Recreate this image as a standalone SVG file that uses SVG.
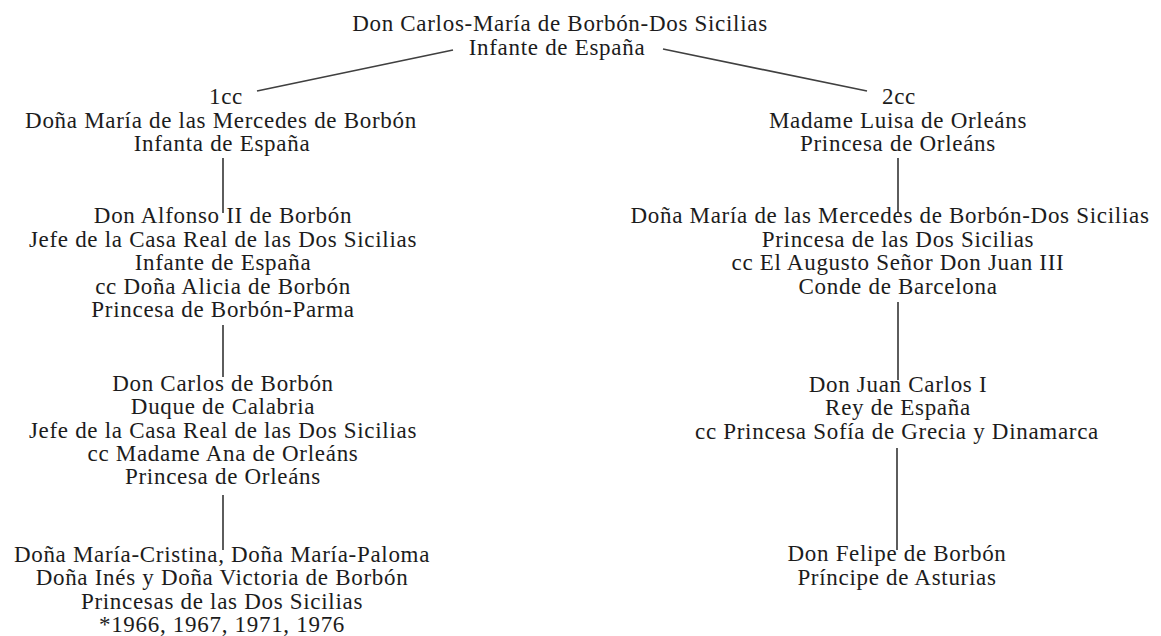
<svg xmlns="http://www.w3.org/2000/svg" width="1161" height="636" viewBox="0 0 1161 636">
<style>
text{font-family:"Liberation Serif","Times New Roman",serif;font-size:23px;letter-spacing:0.7px;fill:#1c1c1c;text-anchor:middle}
.c{stroke:#404040;stroke-width:1.7;fill:none}
</style>
<rect width="1161" height="636" fill="#ffffff"/>
<g id="connectors">
<line class="c" x1="453" y1="50" x2="257" y2="91"/>
<line class="c" x1="663" y1="49" x2="867" y2="91"/>
<line class="c" x1="223" y1="158" x2="223" y2="213"/>
<line class="c" x1="223" y1="325" x2="223" y2="377"/>
<line class="c" x1="223" y1="495" x2="223" y2="550"/>
<line class="c" x1="898" y1="158" x2="898" y2="213"/>
<line class="c" x1="898" y1="302" x2="898" y2="380"/>
<line class="c" x1="897" y1="448" x2="897" y2="550"/>
</g>
<g id="carlos-maria">
<text x="560" y="31">Don Carlos-María de Borbón-Dos Sicilias</text>
<text x="557" y="55">Infante de España</text>
</g>
<g id="maria-mercedes">
<text x="226" y="104">1cc</text>
<text x="221" y="127.5">Doña María de las Mercedes de Borbón</text>
<text x="222" y="151">Infanta de España</text>
</g>
<g id="luisa">
<text x="899" y="104">2cc</text>
<text x="898" y="127.5">Madame Luisa de Orleáns</text>
<text x="898" y="151">Princesa de Orleáns</text>
</g>
<g id="alfonso">
<text x="223" y="223">Don Alfonso II de Borbón</text>
<text x="223" y="246.5">Jefe de la Casa Real de las Dos Sicilias</text>
<text x="223" y="270">Infante de España</text>
<text x="223" y="293.5">cc Doña Alicia de Borbón</text>
<text x="223" y="317">Princesa de Borbón-Parma</text>
</g>
<g id="mercedes-dos-sicilias">
<text x="890" y="223">Doña María de las Mercedes de Borbón-Dos Sicilias</text>
<text x="898" y="246.5">Princesa de las Dos Sicilias</text>
<text x="898" y="270">cc El Augusto Señor Don Juan III</text>
<text x="898" y="293.5">Conde de Barcelona</text>
</g>
<g id="carlos">
<text x="223" y="391">Don Carlos de Borbón</text>
<text x="223" y="414.3">Duque de Calabria</text>
<text x="223" y="437.6">Jefe de la Casa Real de las Dos Sicilias</text>
<text x="223" y="461">cc Madame Ana de Orleáns</text>
<text x="223" y="484.3">Princesa de Orleáns</text>
</g>
<g id="juan-carlos">
<text x="898" y="391.5">Don Juan Carlos I</text>
<text x="898" y="415">Rey de España</text>
<text x="897" y="438.5">cc Princesa Sofía de Grecia y Dinamarca</text>
</g>
<g id="hijas">
<text x="222" y="561.5">Doña María-Cristina, Doña María-Paloma</text>
<text x="222" y="585">Doña Inés y Doña Victoria de Borbón</text>
<text x="222" y="608.5">Princesas de las Dos Sicilias</text>
<text x="222" y="632">*1966, 1967, 1971, 1976</text>
</g>
<g id="felipe">
<text x="897" y="561">Don Felipe de Borbón</text>
<text x="897" y="584.5">Príncipe de Asturias</text>
</g>
</svg>
